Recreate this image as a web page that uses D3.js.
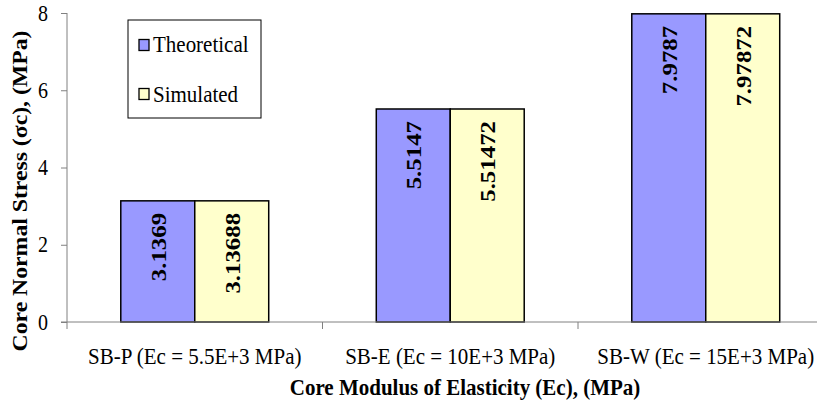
<!DOCTYPE html>
<html>
<head>
<meta charset="utf-8">
<script src="https://cdn.jsdelivr.net/npm/d3@7"></script>
<style>
  body { margin: 0; background: #fff; }
  svg text { font-family: "Liberation Serif", "Times New Roman", serif; }
</style>
</head>
<body>
<div id="chart"></div>
<script>
// data
var categories = ["SB-P (Ec = 5.5E+3 MPa)", "SB-E (Ec = 10E+3 MPa)", "SB-W (Ec = 15E+3 MPa)"];
var seriesNames = ["Theoretical", "Simulated"];
var theoretical = [3.1369, 5.5147, 7.9787];
var simulated = [3.13688, 5.51472, 7.97872];
var yTicks = [0, 2, 4, 6, 8];
var colors = ["#9999FF", "#FFFFCC"];

// the source picture is a bit taller than wide, so stretch glyphs vertically
var STRETCH = 1.13;

var W = 817, H = 404;
var margin = {top: 13, right: -16.5, bottom: 82, left: 67},
    width = W - margin.left - margin.right,
    height = H - margin.top - margin.bottom;

var svg = d3.select("#chart")
  .append("svg")
    .attr("width", W)
    .attr("height", H)
  .append("g")
    .attr("transform", "translate(" + margin.left + "," + margin.top + ")");

var x = d3.scaleBand()
    .domain(categories)
    .range([0, width])
    .paddingInner(0.421)
    .paddingOuter(0.2105);

var xs = d3.scaleBand()
    .domain(seriesNames)
    .range([0, x.bandwidth()]);

var y = d3.scaleLinear()
    .domain([0, 8])
    .range([height, 0]);

var rows = categories.map(function(c, i) {
  return {cat: c, vals: [theoretical[i], simulated[i]]};
});

// bars
var groups = svg.selectAll(".grp")
  .data(rows)
  .enter().append("g")
    .attr("transform", function(d) { return "translate(" + x(d.cat) + ",0)"; });

groups.selectAll("rect")
  .data(function(d) { return d.vals.map(function(v, j) { return {s: seriesNames[j], v: v, j: j}; }); })
  .enter().append("rect")
    .attr("x", function(d) { return xs(d.s); })
    .attr("y", function(d) { return y(d.v); })
    .attr("width", xs.bandwidth())
    .attr("height", function(d) { return height - y(d.v); })
    .attr("fill", function(d) { return colors[d.j]; })
    .attr("stroke", "#000")
    .attr("stroke-width", 1.5);

groups.selectAll(".val")
  .data(function(d) { return d.vals.map(function(v, j) { return {s: seriesNames[j], v: v}; }); })
  .enter().append("text")
    .attr("transform", function(d) {
      return "translate(" + (xs(d.s) + xs.bandwidth() / 2 + 8) + "," + (y(d.v) + 12) +
        ") rotate(-90) scale(" + STRETCH + ",1)";
    })
    .attr("text-anchor", "end")
    .style("font-size", "22px")
    .style("font-weight", "bold")
    .text(function(d) { return d.v; });

// y axis
var yAxis = svg.append("g")
  .call(d3.axisLeft(y).tickValues(yTicks).tickSize(6).tickPadding(13));
yAxis.selectAll("text")
  .attr("font-family", null)
  .style("font-size", "20px")
  .attr("fill", "#000")
  .attr("transform", "scale(1," + STRETCH + ")");
yAxis.selectAll("line").attr("stroke", "#808080");
yAxis.select(".domain").attr("stroke", "#808080").attr("d", "M0," + height + "V0");

// x axis: ticks sit on band boundaries
var xAxis = svg.append("g")
  .attr("transform", "translate(0," + height + ")");
xAxis.append("line")
  .attr("x1", -6).attr("x2", width)
  .attr("stroke", "#808080");
xAxis.selectAll(".xt")
  .data(d3.range(categories.length + 1))
  .enter().append("line")
    .attr("x1", function(i) { return i * x.step(); })
    .attr("x2", function(i) { return i * x.step(); })
    .attr("y1", 0).attr("y2", 7)
    .attr("stroke", "#808080");
xAxis.selectAll(".cl")
  .data(categories)
  .enter().append("text")
    .attr("transform", function(d) {
      return "translate(" + (x(d) + x.bandwidth() / 2) + ",42) scale(1," + STRETCH + ")";
    })
    .attr("text-anchor", "middle")
    .style("font-size", "21px")
    .text(function(d) { return d; });

// axis titles
svg.append("text")
  .attr("transform", "translate(" + (465 - margin.left) + "," + (395 - margin.top) + ") scale(1," + STRETCH + ")")
  .attr("text-anchor", "middle")
  .style("font-size", "21px")
  .style("font-weight", "bold")
  .text("Core Modulus of Elasticity (Ec), (MPa)");

svg.append("text")
  .attr("transform", "translate(" + (27 - margin.left) + "," + (191 - margin.top) + ") rotate(-90) scale(" + STRETCH + ",1)")
  .attr("text-anchor", "middle")
  .style("font-size", "21px")
  .style("font-weight", "bold")
  .text("Core Normal Stress (σc), (MPa)");

// legend
var legend = svg.append("g")
  .attr("transform", "translate(" + (128 - margin.left) + "," + (20 - margin.top) + ")");
legend.append("rect")
  .attr("width", 133).attr("height", 98)
  .attr("fill", "#fff")
  .attr("stroke", "#000")
  .attr("stroke-width", 1);
seriesNames.forEach(function(s, j) {
  legend.append("rect")
    .attr("x", 11).attr("y", 19.5 + j * 49)
    .attr("width", 10).attr("height", 11)
    .attr("fill", colors[j])
    .attr("stroke", "#000")
    .attr("stroke-width", 1.3);
  legend.append("text")
    .attr("transform", "translate(25," + (32 + j * 50) + ") scale(1," + STRETCH + ")")
    .style("font-size", "21px")
    .text(s);
});
</script>
</body>
</html>
